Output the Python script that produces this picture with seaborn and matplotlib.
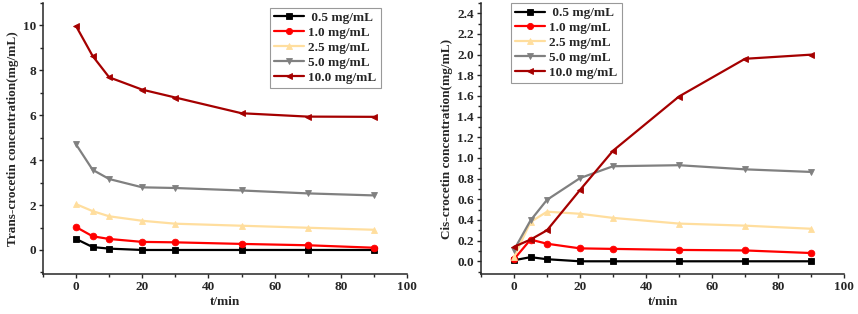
import matplotlib
matplotlib.use("Agg")
import matplotlib.pyplot as plt
import seaborn as sns
import pandas as pd
from matplotlib.ticker import MultipleLocator

times = [0, 5, 10, 20, 30, 50, 70, 90]
labels = [" 0.5 mg/mL", "1.0 mg/mL", "2.5 mg/mL", "5.0 mg/mL", "10.0 mg/mL"]

trans_05 = [0.49, 0.13, 0.06, 0.0, 0.0, 0.0, 0.0, 0.0]
trans_10 = [1.02, 0.61, 0.49, 0.36, 0.34, 0.27, 0.21, 0.10]
trans_25 = [2.04, 1.73, 1.50, 1.30, 1.17, 1.08, 0.99, 0.90]
trans_50 = [4.70, 3.57, 3.16, 2.79, 2.76, 2.65, 2.52, 2.43]
trans_100 = [9.97, 8.64, 7.69, 7.14, 6.79, 6.09, 5.94, 5.93]

cis_05 = [0.01, 0.04, 0.02, 0.0, 0.0, 0.0, 0.0, 0.0]
cis_10 = [0.02, 0.21, 0.17, 0.125, 0.12, 0.11, 0.105, 0.08]
cis_25 = [0.04, 0.38, 0.48, 0.46, 0.42, 0.365, 0.345, 0.315]
cis_50 = [0.11, 0.395, 0.595, 0.805, 0.92, 0.93, 0.89, 0.865]
cis_100 = [0.14, 0.21, 0.30, 0.69, 1.07, 1.595, 1.96, 2.00]

colors = ["#000000", "#FF0000", "#FFDE9E", "#808080", "#A50000"]
markers = ["s", "o", "^", "v", "<"]

sns.set_style("ticks")
plt.rcParams['font.family'] = ['Liberation Serif', 'DejaVu Serif']
plt.rcParams['font.weight'] = 'bold'

def make_df(series):
    rows = []
    for lab, vals in zip(labels, series):
        for t, v in zip(times, vals):
            rows.append({"t": t, "c": v, "series": lab})
    return pd.DataFrame(rows)

fig = plt.figure(figsize=(8.58, 3.14), dpi=100)
W, H = 858, 314
ax1 = fig.add_axes([43 / W, 40 / H, (407 - 43) / W, (274 - 3) / H])
ax2 = fig.add_axes([481 / W, 40 / H, (844 - 481) / W, (274 - 3) / H])

pal = dict(zip(labels, colors))
mk = dict(zip(labels, markers))

for ax, series, ylab, ylim, ymaj, ymin, legpos in [
    (ax1, [trans_05, trans_10, trans_25, trans_50, trans_100],
     "Trans-crocetin concentration(mg/mL)", (-1.07, 11.0), 2, 1, (0.624, 0.982)),
    (ax2, [cis_05, cis_10, cis_25, cis_50, cis_100],
     "Cis-crocetin concentration(mg/mL)", (-0.123, 2.5), 0.2, 0.1, (0.083, 1.0)),
]:
    df = make_df(series)
    sns.lineplot(data=df, x="t", y="c", hue="series", style="series",
                 palette=pal, markers=mk, dashes=False, ax=ax,
                 linewidth=1.6, legend=True)
    for line in ax.lines:
        line.set_markersize(4.8)
        line.set_markeredgewidth(0.6)
        line.set_markeredgecolor(line.get_color())
    ax.set_xlim(-10, 100)
    ax.set_ylim(*ylim)
    ax.xaxis.set_major_locator(MultipleLocator(20))
    ax.xaxis.set_minor_locator(MultipleLocator(10))
    ax.yaxis.set_major_locator(MultipleLocator(ymaj))
    ax.yaxis.set_minor_locator(MultipleLocator(ymin))
    ax.tick_params(which="major", direction="out", length=3, width=1, labelsize=9.5, pad=2)
    ax.tick_params(which="minor", direction="out", length=2, width=1)
    for s in ["left", "bottom"]:
        ax.spines[s].set_linewidth(1.1)
    sns.despine(ax=ax)
    ax.set_xlabel("t/min", fontsize=9.5, fontweight="bold", labelpad=2)
    ax.set_ylabel(ylab, fontsize=9.5, fontweight="bold", labelpad=3)
    for lbl in ax.get_xticklabels() + ax.get_yticklabels():
        lbl.set_fontweight("bold")
    leg = ax.legend(loc="upper left", bbox_to_anchor=legpos, fontsize=9.5,
                    frameon=True, fancybox=False, edgecolor="#999999",
                    handlelength=2.3, handletextpad=0.3, borderpad=0.3,
                    labelspacing=0.2, borderaxespad=0, framealpha=1)
    leg.get_frame().set_linewidth(0.8)
    for h in leg.legend_handles:
        h.set_markersize(4.5)
        h.set_markeredgecolor(h.get_color())
        h.set_linewidth(1.6)
    for txt in leg.get_texts():
        txt.set_fontweight("bold")

fig.savefig("out.png", dpi=100)
